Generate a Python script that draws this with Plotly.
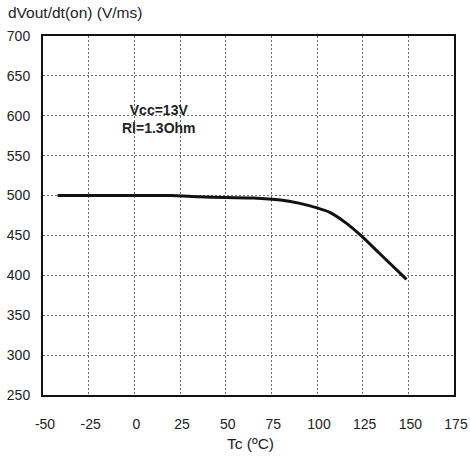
import plotly.graph_objects as go

# Data
tc = [-42, 0, 20, 35, 50, 65, 80, 90, 100, 107, 116, 124, 134, 149]
dvdt = [500, 500, 500, 498.5, 497.5, 497, 494.5, 490.5, 484.5, 479, 465.5, 450, 428, 395]

x_ticks = [-50, -25, 0, 25, 50, 75, 100, 125, 150, 175]
x_tick_text = ["-50", "-25", "0", "25", "50", "75", "100", "125", "150", "175"]
y_ticks = [250, 300, 350, 400, 450, 500, 550, 600, 650, 700]

font_family = "Liberation Sans, Arial, sans-serif"

fig = go.Figure()
fig.add_trace(go.Scatter(
    x=tc, y=dvdt, mode="lines",
    line=dict(color="#111111", width=3, shape="spline", smoothing=0.6),
    showlegend=False, hoverinfo="skip",
))

axis_common = dict(
    showline=True, linecolor="#111111", linewidth=2, mirror=True,
    showgrid=True, gridcolor="#666666", griddash="2px,2px", gridwidth=1.3,
    zeroline=False, ticks="", automargin=False,
    tickfont=dict(family=font_family, size=14, color="#222222"),
)

fig.update_layout(
    width=470, height=459,
    margin=dict(l=43, r=16, t=36, b=64),
    paper_bgcolor="white", plot_bgcolor="white",
    font=dict(family=font_family, size=14, color="#222222"),
    xaxis=dict(range=[-50, 175], tickvals=x_ticks, ticktext=x_tick_text,
               ticklabelstandoff=15, ticklabelshift=2, **axis_common),
    yaxis=dict(range=[250, 700], tickvals=y_ticks, ticklabelstandoff=8,
               **axis_common),
    annotations=[
        dict(text="dVout/dt(on) (V/ms)", xref="paper", yref="paper",
             x=0, y=1, xshift=-37, yshift=13, xanchor="left", yanchor="bottom",
             showarrow=False, font=dict(family=font_family, size=15.5, color="#222222")),
        dict(text="Tc (ºC)", xref="paper", yref="paper",
             x=0.5, y=0, xshift=2, yshift=-48, xanchor="center", yanchor="middle",
             showarrow=False, font=dict(family=font_family, size=15.5, color="#222222")),
        dict(text="<b>Vcc=13V<br>Rl=1.3Ohm</b>", xref="x", yref="y",
             x=13.5, y=596, showarrow=False,
             font=dict(family=font_family, size=14, color="#222222")),
    ],
)

fig.write_html("out.html",
               config={"displayModeBar": False},
               post_script="document.body.style.margin='0';document.body.style.overflow='hidden';")
